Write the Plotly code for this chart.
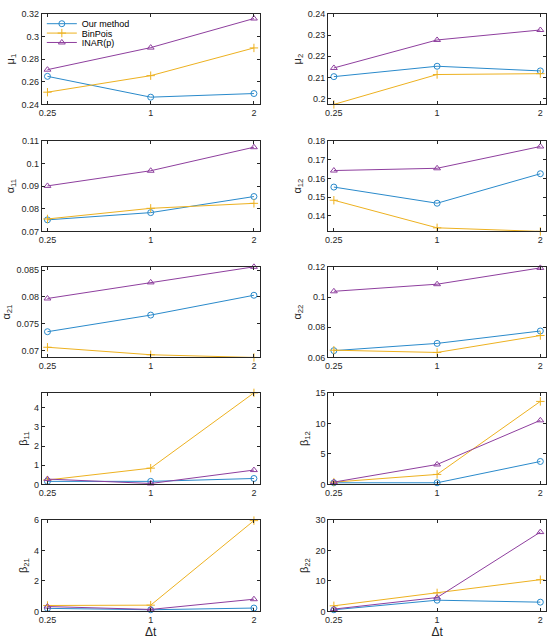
import plotly.graph_objects as go

dt = ["0.25", "1", "2"]
methods = ["Our method", "BinPois", "INAR(p)"]

# each list: [Our method, BinPois, INAR(p)] over dt
mu1 = [[0.2648, 0.2464, 0.2496], [0.2508, 0.2654, 0.2899], [0.2707, 0.2902, 0.3159]]
mu2 = [[0.2104, 0.2153, 0.2131], [0.1973, 0.2114, 0.2118], [0.2145, 0.2277, 0.2324]]
a11 = [[0.0751, 0.0783, 0.0854], [0.0755, 0.0802, 0.0824], [0.0901, 0.0968, 0.1072]]
a12 = [[0.1554, 0.1468, 0.1625], [0.1484, 0.1337, 0.1318], [0.1642, 0.1654, 0.1770]]
a21 = [[0.0735, 0.0766, 0.0803], [0.0706, 0.0692, 0.0687], [0.0797, 0.0827, 0.0856]]
a22 = [[0.0645, 0.0693, 0.0775], [0.0648, 0.0633, 0.0745], [0.1038, 0.1085, 0.1193]]
b11 = [[0.16, 0.16, 0.31], [0.23, 0.85, 4.78], [0.28, 0.05, 0.75]]
b12 = [[0.27, 0.27, 3.76], [0.38, 1.64, 13.6], [0.38, 3.27, 10.5]]
b21 = [[0.20, 0.11, 0.22], [0.39, 0.41, 5.95], [0.32, 0.13, 0.80]]
b22 = [[0.54, 3.68, 3.03], [1.84, 6.07, 10.4], [0.76, 4.55, 26.0]]

panels = [
    ("μ<sub>1</sub>", mu1, [0.24, 0.32], 0.02),
    ("μ<sub>2</sub>", mu2, [0.1973, 0.24], 0.01),
    ("α<sub>11</sub>", a11, [0.07, 0.11], 0.01),
    ("α<sub>12</sub>", a12, [0.1318, 0.18], 0.01),
    ("α<sub>21</sub>", a21, [0.0687, 0.0856], 0.005),
    ("α<sub>22</sub>", a22, [0.06, 0.12], 0.02),
    ("β<sub>11</sub>", b11, [0, 4.78], 1),
    ("β<sub>12</sub>", b12, [0, 15], 5),
    ("β<sub>21</sub>", b21, [0, 6], 2),
    ("β<sub>22</sub>", b22, [0, 30], 10),
]

colors = ["#2A8ACB", "#EDB120", "#8E3F9E"]
symbols = ["circle-open", "cross-thin-open", "triangle-up-open"]
legend_names = ["legend", "legend2", "legend3"]

x_domains = [[0.0709, 0.4691], [0.5945, 0.9927]]
y_domains = [[0.8432, 0.986], [0.6429, 0.7857], [0.4441, 0.5870],
             [0.2438, 0.3882], [0.0435, 0.1879]]

axis_color = "#262626"
font = "Liberation Sans, Arial, sans-serif"

fig = go.Figure()
layout = {}

for i, (label, data, yr, dtick) in enumerate(panels):
    row, col = divmod(i, 2)
    n = i + 1
    xa = "x" if n == 1 else f"x{n}"
    ya = "y" if n == 1 else f"y{n}"

    for k in range(3):
        fig.add_trace(go.Scatter(
            x=dt, y=data[k], xaxis=xa, yaxis=ya,
            name=methods[k], mode="lines+markers",
            line=dict(color=colors[k], width=1),
            marker=dict(symbol=symbols[k], size=6, color=colors[k],
                        line=dict(color=colors[k], width=1)),
            cliponaxis=False,
            showlegend=(n == 1), legend=legend_names[k],
        ))

    common = dict(showline=True, linecolor=axis_color, linewidth=1, mirror="ticks",
                  ticks="inside", ticklen=3, tickcolor=axis_color, showgrid=False,
                  zeroline=False, tickfont=dict(size=9, color=axis_color, family=font))
    xkey = "xaxis" if n == 1 else f"xaxis{n}"
    ykey = "yaxis" if n == 1 else f"yaxis{n}"
    xaxis = dict(domain=x_domains[col], anchor=ya, type="category",
                 categoryorder="array", categoryarray=dt,
                 range=[-0.055, 2.055], **common)
    if row == 4:
        xaxis["title"] = dict(text="Δt", font=dict(size=12, color=axis_color, family=font),
                              standoff=2)
    yaxis = dict(domain=y_domains[row], anchor=xa, range=yr, dtick=dtick, tick0=0,
                 title=dict(text=label, font=dict(size=11, color=axis_color, family=font),
                            standoff=4),
                 **common)
    layout[xkey] = xaxis
    layout[ykey] = yaxis

# one legend per entry so the rows sit as close together as in the original
legend_y = [0.9705, 0.9557, 0.9409]
for k, ln in enumerate(legend_names):
    layout[ln] = dict(x=0.071, y=legend_y[k], xanchor="left", yanchor="middle",
                      bgcolor="rgba(0,0,0,0)", borderwidth=0,
                      font=dict(size=9, color="#000000", family=font))

fig.update_layout(
    width=550, height=644,
    margin=dict(l=0, r=0, t=0, b=0),
    paper_bgcolor="white", plot_bgcolor="white",
    font=dict(family=font, color=axis_color),
    **layout,
)

# page has a default body margin; drop it so the figure fills the window
fig.write_html("out.html", config={"displayModeBar": False},
               post_script="document.body.style.margin = '0';")
